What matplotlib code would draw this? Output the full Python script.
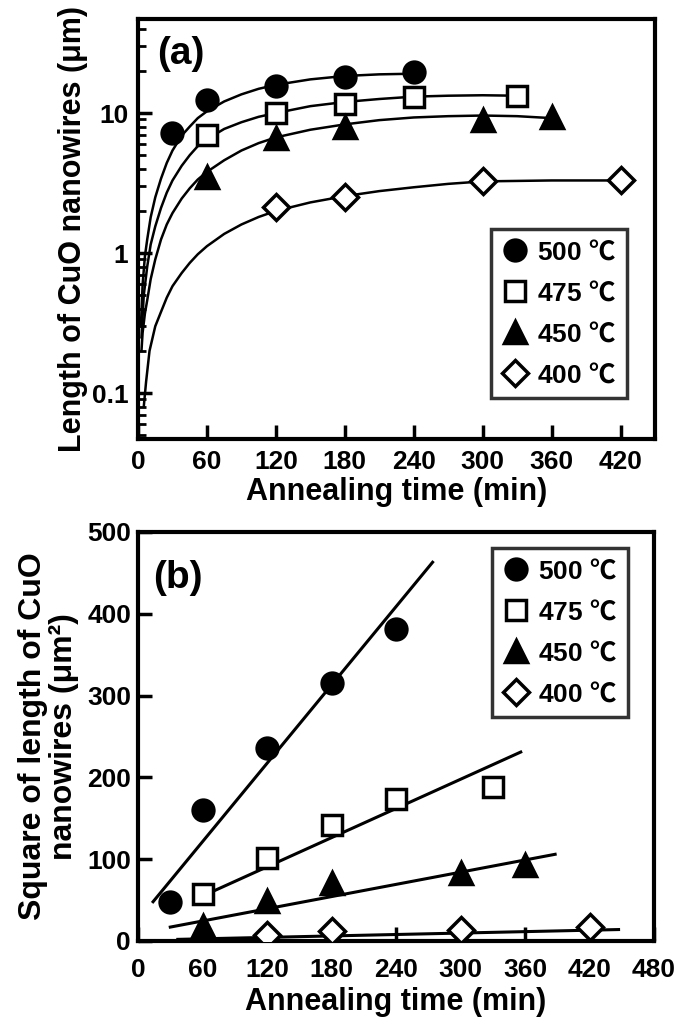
import numpy as np
import matplotlib
matplotlib.use('Agg')
import matplotlib.pyplot as plt
from matplotlib.lines import Line2D

plt.rcParams['font.family'] = ['Liberation Sans', 'Noto Sans CJK JP', 'DejaVu Sans']
plt.rcParams['font.weight'] = 'bold'
plt.rcParams['axes.labelweight'] = 'bold'
plt.rcParams['mathtext.fontset'] = 'custom'
plt.rcParams['mathtext.rm'] = 'Noto Sans CJK JP'

# series labels / styles
temps = ['500', '475', '450', '400']
markers = ['o', 's', '^', 'D']
faces = ['black', 'white', 'black', 'white']
msizes = [15, 14, 16, 13]

# (a) measured length of CuO nanowires (um)
t_500 = [30, 60, 120, 180, 240]
len_500 = [7.2, 12.4, 15.6, 18.2, 19.7]
t_475 = [60, 120, 180, 240, 330]
len_475 = [6.96, 10.0, 11.7, 13.1, 13.2]
t_450 = [60, 120, 180, 300, 360]
len_450 = [3.5, 6.6, 8.0, 8.9, 9.4]
t_400 = [120, 180, 300, 420]
len_400 = [2.12, 2.53, 3.27, 3.32]

# (a) guide curves
ct_500 = [2.5, 4, 6, 8, 11, 15, 20, 25, 30, 38, 45, 52, 60, 75, 90, 105, 120, 150, 180, 210, 240]
cl_500 = [0.3, 0.6, 0.95, 1.25, 1.8, 2.5, 3.4, 4.4, 5.4, 6.9, 8.0, 9.2, 10.3, 12.1, 13.6, 14.9, 15.9, 17.4, 18.4, 18.9, 19.1]
ct_475 = [3, 5, 8, 11, 15, 20, 25, 30, 38, 45, 52, 60, 75, 90, 105, 120, 150, 180, 210, 240, 270, 300, 330]
cl_475 = [0.25, 0.5, 0.8, 1.15, 1.55, 2.1, 2.7, 3.3, 4.2, 5.0, 5.8, 6.5, 7.7, 8.6, 9.4, 10.0, 11.2, 12.0, 12.6, 13.1, 13.3, 13.4, 13.3]
ct_450 = [3, 4, 6, 8, 11, 15, 20, 25, 30, 38, 45, 52, 60, 75, 90, 105, 120, 150, 180, 210, 240, 270, 300, 330, 360]
cl_450 = [0.2, 0.27, 0.37, 0.46, 0.65, 0.9, 1.25, 1.6, 1.93, 2.45, 2.9, 3.35, 3.8, 4.6, 5.4, 6.1, 6.7, 7.6, 8.3, 8.9, 9.3, 9.5, 9.6, 9.5, 9.2]
ct_400 = [5, 7, 10, 15, 20, 25, 30, 38, 45, 52, 60, 75, 90, 105, 120, 150, 180, 210, 240, 270, 300, 360, 420]
cl_400 = [0.08, 0.12, 0.2, 0.3, 0.38, 0.48, 0.58, 0.72, 0.85, 0.98, 1.12, 1.37, 1.6, 1.81, 2.0, 2.3, 2.55, 2.77, 2.95, 3.12, 3.25, 3.3, 3.3]

# (b) square of length (um^2)
sq_500 = [48, 160, 236, 315, 381]
sq_475 = [58, 102, 142, 173, 188]
sq_450 = [18, 49, 71, 83, 93]
sq_400 = [7, 12, 14, 17]

# (b) straight fit lines (end points)
ft_500 = [14, 274]
fs_500 = [48, 463]
ft_475 = [55, 356]
fs_475 = [52, 231]
ft_450 = [30, 388]
fs_450 = [17, 106]
ft_400 = [37, 447]
fs_400 = [2, 14]

ts = [t_500, t_475, t_450, t_400]
lens = [len_500, len_475, len_450, len_400]
cts = [ct_500, ct_475, ct_450, ct_400]
cls = [cl_500, cl_475, cl_450, cl_400]
sqs = [sq_500, sq_475, sq_450, sq_400]
fts = [ft_500, ft_475, ft_450, ft_400]
fss = [fs_500, fs_475, fs_450, fs_400]

fig = plt.figure(figsize=(6.85, 10.36), dpi=100)
ax1 = fig.add_axes([0.2015, 0.5763, 0.7547, 0.4054])
ax2 = fig.add_axes([0.2015, 0.0917, 0.7533, 0.3948])


def style(ax, xpad, ypad):
    for s in ax.spines.values():
        s.set_linewidth(3)
    ax.tick_params(which='major', direction='in', length=10, width=2.5,
                   labelsize=19, top=False, right=False)
    ax.tick_params(which='minor', direction='in', length=6, width=2,
                   top=False, right=False)
    ax.tick_params(axis='x', pad=xpad)
    ax.tick_params(axis='y', pad=ypad)


def legend(ax, anchor):
    handles = [Line2D([], [], ls='none', marker=m, ms=s, mfc=f, mec='black', mew=2.5)
               for m, f, s in zip(markers, faces, msizes)]
    labels = [t + ' $\\mathrm{\u2103}$' for t in temps]
    lg = ax.legend(handles, labels, loc='upper left', bbox_to_anchor=anchor,
                   fontsize=19, frameon=True, fancybox=False, borderpad=0.4,
                   labelspacing=0.62, handletextpad=0.35, handlelength=1.0,
                   borderaxespad=0)
    lg.get_frame().set_edgecolor('black')
    lg.get_frame().set_linewidth(2.5)


# panel (a)
for i in range(4):
    ax1.plot(cts[i], cls[i], color='black', lw=1.8, zorder=2)
    ax1.plot(ts[i], lens[i], ls='none', marker=markers[i], ms=msizes[i],
             mfc=faces[i], mec='black', mew=2.5, zorder=3)
ax1.set_yscale('log')
ax1.set_xlim(0, 450)
ax1.set_ylim(0.047, 47)
ax1.set_xticks(range(0, 421, 60))
ax1.set_yticks([0.1, 1, 10])
ax1.set_yticklabels(['0.1', '1', '10'])
style(ax1, 8, 7)
ax1.set_xlabel('Annealing time (min)', fontsize=22, labelpad=2)
ax1.set_ylabel('Length of CuO nanowires (\u03bcm)', fontsize=22, labelpad=3)
ax1.text(0.037, 0.917, '(a)', transform=ax1.transAxes, fontsize=28, va='center')
legend(ax1, (0.683, 0.5))

# panel (b)
for i in range(4):
    ax2.plot(fts[i], fss[i], color='black', lw=2.2, zorder=2)
    ax2.plot(ts[i], sqs[i], ls='none', marker=markers[i], ms=msizes[i],
             mfc=faces[i], mec='black', mew=2.5, zorder=3)
ax2.set_xlim(0, 480)
ax2.set_ylim(0, 500)
ax2.set_xticks(range(0, 481, 60))
ax2.set_yticks(range(0, 501, 100))
style(ax2, 12, 5)
ax2.set_xlabel('Annealing time (min)', fontsize=22, labelpad=4)
ax2.set_ylabel('Square of length of CuO\nnanowires (\u03bcm\u00b2)', fontsize=23,
               labelpad=6, linespacing=1.05)
ax2.text(0.03, 0.888, '(b)', transform=ax2.transAxes, fontsize=28, va='center')
legend(ax2, (0.686, 0.961))

fig.savefig('out.png', dpi=100)
